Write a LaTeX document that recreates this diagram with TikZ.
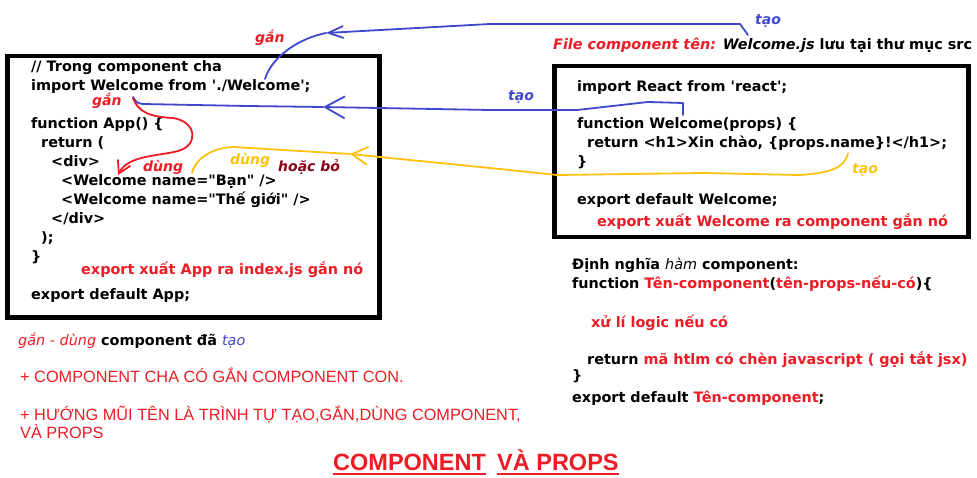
\documentclass[tikz,border=0pt]{standalone}
\usepackage{fontspec}
\setmainfont{DejaVu Sans}
\newfontfamily\capsfont{Liberation Sans}
\usetikzlibrary{arrows.meta}
\definecolor{penblue}{RGB}{63,72,204}
\definecolor{penyellow}{RGB}{255,194,14}
\definecolor{penred}{RGB}{237,28,36}
\definecolor{pendark}{RGB}{136,0,21}
\newcommand{\q}{\textquotesingle}
\newcommand{\qq}{\textquotedbl}

\begin{document}
\begin{tikzpicture}[x=1pt,y=-1pt,
        code/.style={anchor=base west,inner sep=0pt,font=\bfseries\fontsize{14.4}{17}\selectfont},
        note/.style={code,text=penred},
        tag/.style={anchor=base west,inner sep=0pt,font=\bfseries\itshape\fontsize{14}{17}\selectfont},
        caps/.style={anchor=base west,inner sep=0pt,text=penred,font=\capsfont\fontsize{16.3}{19}\selectfont},
        title/.style={anchor=base west,inner sep=0pt,text=penred,font=\capsfont\bfseries\fontsize{23.5}{27}\selectfont},
        frame/.style={draw,line width=4.5pt,anchor=north west,inner sep=0pt},
        pen/.style={line width=1.8pt,line cap=round,line join=round}]

    \useasboundingbox[fill=white] (0,0) rectangle (977,478);

    \node[frame,minimum width=372pt,minimum height=261pt] (appbox) at (5,54) {};
    \node[frame,minimum width=414pt,minimum height=171pt] (welbox) at (552,64) {};

    \node[code] (cmt) at (31,72) {// Trong component cha};
    \node[code] (imp) at (31,91) {import Welcome from \q./Welcome\q;};
    \node[code] (fapp) at (31,129) {function App() \{};
    \node[code] (ret) at (41,148) {return (};
    \node[code] (div) at (51,167) {<div>};
    \node[code] (use1) at (61,186) {<Welcome name=\qq Bạn\qq\ />};
    \node[code] (use2) at (61,205) {<Welcome name=\qq Thế giới\qq\ />};
    \node[code] (cdiv) at (51,224) {</div>};
    \node[code] (cpar) at (41,243) {);};
    \node[code] (cbr) at (31,262) {\}};
    \node[note] (expnote) at (81,275) {export xuất App ra index.js gắn nó};
    \node[code] (expapp) at (31,300) {export default App;};

    \node[code] (hdr) at (553,50) {\itshape\textcolor{penred}{File component tên:} Welcome.js \upshape lưu tại thư mục src};
    \node[code] (react) at (577,92) {import React from \q react\q;};
    \node[code] (fwel) at (577,129) {function Welcome(props) \{};
    \node[code] (rwel) at (587,148) {return <h1>Xin chào, \{props.name\}!</h1>;};
    \node[code] (cwel) at (577,167) {\}};
    \node[code] (expwel) at (577,205) {export default Welcome;};
    \node[note] (welnote) at (597,227) {export xuất Welcome ra component gắn nó};

    \node[code] (def) at (572,270) {Định nghĩa {\mdseries\itshape hàm} component:};
    \node[code] (fdef) at (572,289) {function \textcolor{penred}{Tên-component}(\textcolor{penred}{tên-props-nếu-có})\{};
    \node[note] (logic) at (591,327) {xử lí logic nếu có};
    \node[code] (rdef) at (587,364) {return \textcolor{penred}{mã htlm có chèn javascript ( gọi tắt jsx)}};
    \node[code] (cdef) at (572,380) {\}};
    \node[code] (expdef) at (572,402) {export default \textcolor{penred}{Tên-component};};

    \node[code] (legend) at (18,345) {{\mdseries\itshape\color{penred}gắn - dùng} component đã {\mdseries\itshape\color{penblue}tạo}};
    \node[caps] (rule1) at (20,382) {+ COMPONENT CHA CÓ GẮN COMPONENT CON.};
    \node[caps] (rule2) at (20,420) {+ HƯỚNG MŨI TÊN LÀ TRÌNH TỰ TẠO,GẮN,DÙNG COMPONENT,};
    \node[caps] (rule3) at (20,438) {VÀ PROPS};
    \node[title] (ttlA) at (333,470) {COMPONENT};
    \node[title] (ttlB) at (497,470) {VÀ PROPS};
    \draw[penred,line width=2.5pt] ([yshift=-4pt]ttlA.base west) -- ([yshift=-4pt]ttlA.base east);
    \draw[penred,line width=2.5pt] ([yshift=-4pt]ttlB.base west) -- ([yshift=-4pt]ttlB.base east);

    \node[tag,text=penblue] (taoA) at (755,25) {tạo};
    \node[tag,text=penblue] (taoB) at (508,101) {tạo};
    \node[tag,text=penyellow] (taoC) at (852,174) {tạo};
    \node[tag,text=penred] (ganA) at (255,43) {gắn};
    \node[tag,text=penred] (ganB) at (92,106) {gắn};
    \node[tag,text=penred] (dungD) at (143,172) {dùng};
    \node[tag,text=penyellow] (dungC) at (230,165) {dùng};
    \node[tag,text=pendark] (hoac) at (278,172) {hoặc bỏ};

    \coordinate (srcA) at (748,35);
    \coordinate (tipA) at (326,33);
    \coordinate (dstA) at (265,79);
    \coordinate (srcB) at (683,115);
    \coordinate (tipB) at (323,107);
    \coordinate (dstB) at (133,97);
    \coordinate (srcC) at (848,153);
    \coordinate (tipC) at (350,154);
    \coordinate (dstC) at (192,173);
    \coordinate (srcD) at (133,98);
    \coordinate (tipD) at (118,175);

    \draw[pen,penblue,-{Straight Barb[length=15pt,width=12pt]}] (srcA) -- (740,24) -- (490,24) -- (tipA);
    \draw[pen,penblue] (tipA) .. controls (300,38) and (272,56) .. (dstA);
    \draw[pen,penblue,-{Straight Barb[length=20pt,width=22pt]}] (srcB) -- (683,103) -- (648,102) -- (577,110) -- (490,110) -- (tipB);
    \draw[pen,penblue] (tipB) -- (247,106) -- (143,104) .. controls (137,103) .. (dstB);
    \draw[pen,penyellow,-{Straight Barb[length=16pt,width=18pt]}] (srcC) .. controls (845,168) and (830,173) .. (800,175) -- (703,173) -- (557,175) -- (490,168) -- (tipC);
    \draw[pen,penyellow] (tipC) -- (233,147) .. controls (210,148) and (195,160) .. (dstC);
    \draw[pen,penred,-{Straight Barb[length=12pt,width=14pt]}] (srcD) .. controls (138,112) and (150,117) .. (173,118) .. controls (198,122) and (198,146) .. (178,151) .. controls (160,156) and (128,155) .. (tipD);
    \end{tikzpicture}
\end{document}
